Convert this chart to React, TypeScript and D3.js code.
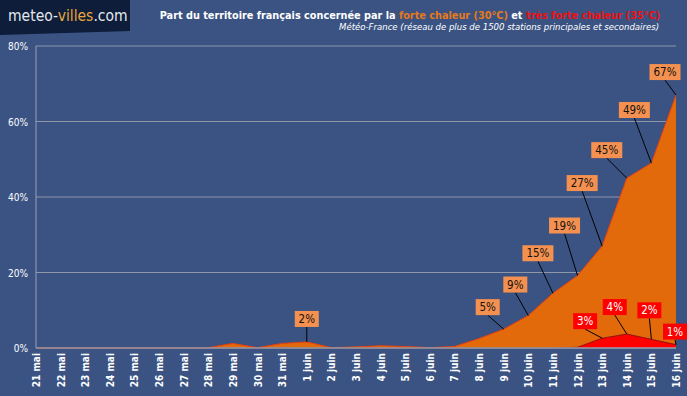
import React from 'react'
import * as d3 from 'd3'

// dates (21 mai -> 16 juin)
const days = [
  '21 mai', '22 mai', '23 mai', '24 mai', '25 mai', '26 mai', '27 mai', '28 mai', '29 mai', '30 mai', '31 mai',
  '1 juin', '2 juin', '3 juin', '4 juin', '5 juin', '6 juin', '7 juin', '8 juin', '9 juin', '10 juin',
  '11 juin', '12 juin', '13 juin', '14 juin', '15 juin', '16 juin',
]

// % territory >= 30°C
const forte = [
  0, 0, 0, 0, 0, 0, 0, 0.1, 1.2, 0.1, 1.2,
  1.6, 0.1, 0.3, 0.6, 0.4, 0.1, 0.4, 2.5, 5, 8.6,
  14.5, 19.2, 27, 45, 49, 67,
]

// % territory >= 35°C
const tresForte = [
  0, 0, 0, 0, 0, 0, 0, 0, 0, 0, 0,
  0, 0, 0, 0, 0, 0, 0, 0, 0, 0,
  0, 0.2, 2.6, 3.7, 2.3, 0.9,
]

const yTicks = [0, 20, 40, 60, 80]

// labelled points: index in days + text
const forteLabels = [
  { i: 11, text: '2%' },
  { i: 19, text: '5%' },
  { i: 20, text: '9%' },
  { i: 21, text: '15%' },
  { i: 22, text: '19%' },
  { i: 23, text: '27%' },
  { i: 24, text: '45%' },
  { i: 25, text: '49%' },
  { i: 26, text: '67%' },
]
const tresForteLabels = [
  { i: 23, text: '3%' },
  { i: 24, text: '4%' },
  { i: 25, text: '2%' },
  { i: 26, text: '1%' },
]

// label box offsets from the point (px)
const forteOffsets = [
  [0, -23], [-16, -22], [-13, -31], [-15, -40], [-13, -50], [-20, -63], [-20, -28], [-17, -53], [-11, -23],
]
const tresForteOffsets = [
  [-17, -17], [-12, -27], [-2, -29], [-1, -13],
]

const W = 687
const H = 396
const left = 36
const right = 676
const top = 46
const bottom = 348
const font = '"DejaVu Sans Condensed", "DejaVu Sans", sans-serif'

const App = () => {
  const x = d3.scaleLinear().domain([0, days.length - 1]).range([left, right])
  const y = d3.scaleLinear().domain([0, 80]).range([bottom, top])

  const area = d3
    .area<number>()
    .x((d, i) => x(i))
    .y0(y(0))
    .y1((d) => y(d))

  const line = d3
    .line<number>()
    .x((d, i) => x(i))
    .y((d) => y(d))

  const label = (
    l: { i: number; text: string },
    off: number[],
    values: number[],
    fill: string,
    color: string,
    key: string
  ) => {
    const px = x(l.i)
    const py = y(values[l.i])
    const cx = px + off[0]
    const cy = py + off[1]
    const w = l.text.length * 7 + 10
    const h = 16
    return (
      <g key={key}>
        <line x1={px} y1={py} x2={cx} y2={cy + h / 2} stroke="#000" strokeWidth={1} />
        <rect x={cx - w / 2} y={cy - h / 2} width={w} height={h} fill={fill} />
        <text x={cx} y={cy + 4} textAnchor="middle" fontSize={11.5} fill={color} fontFamily={font}>
          {l.text}
        </text>
      </g>
    )
  }

  return (
    <svg width={W} height={H} style={{ position: 'absolute', left: 0, top: 0 }}>
      <rect width={W} height={H} fill="#3b5383" />
      {/* logo */}
      <polygon points="0,0 130,0 130,31 0,35" fill="#0d1d3a" />
      <text x={8} y={21} fontSize={15.5} fontFamily={font} fill="#e4e8ee">
        meteo-<tspan fill="#e8a63a">villes</tspan>.com
      </text>
      {/* title */}
      <text x={660} y={19} textAnchor="end" fontSize={10.8} fontWeight="bold" fontFamily={font} fill="#fff">
        Part du territoire français concernée par la <tspan fill="#e57a1a">forte chaleur (30°C)</tspan> et{' '}
        <tspan fill="#ee1010">très forte chaleur (35°C)</tspan>
      </text>
      <text x={659} y={30} textAnchor="end" fontSize={9.5} fontStyle="italic" fontFamily={font} fill="#fff">
        Météo-France (réseau de plus de 1500 stations principales et secondaires)
      </text>

      {/* grid */}
      {yTicks.map((t) => (
        <g key={t}>
          {t > 0 && <line x1={left} x2={right} y1={y(t)} y2={y(t)} stroke="#8f96a8" strokeWidth={1} />}
          <text x={28} y={y(t) + 4} textAnchor="end" fontSize={10} fontFamily={font} fill="#fff">
            {t}%
          </text>
        </g>
      ))}

      {/* areas */}
      <path d={area(forte) ?? ''} fill="#e26a0b" />
      <path d={line(forte) ?? ''} fill="none" stroke="#e8400e" strokeWidth={1} />
      <path d={area(tresForte) ?? ''} fill="#ff0000" />
      <path d={line(tresForte) ?? ''} fill="none" stroke="#7a1010" strokeWidth={0.8} />

      {/* axes */}
      <line x1={left} x2={left} y1={top} y2={bottom} stroke="#9aa0b0" />
      <line x1={left} x2={right} y1={bottom} y2={bottom} stroke="#9aa0b0" strokeWidth={1.5} />

      {days.map((d, i) => (
        <text
          key={d}
          transform={`translate(${x(i) + 4},${bottom + 5}) rotate(-90)`}
          textAnchor="end"
          fontSize={10}
          fontWeight="bold"
          fontFamily={font}
          fill="#fff"
        >
          {d}
        </text>
      ))}

      {forteLabels.map((l, k) => label(l, forteOffsets[k], forte, '#f59150', '#111', 'f' + k))}
      {tresForteLabels.map((l, k) => label(l, tresForteOffsets[k], tresForte, '#ff0000', '#fff', 'r' + k))}
    </svg>
  )
}

export default App
